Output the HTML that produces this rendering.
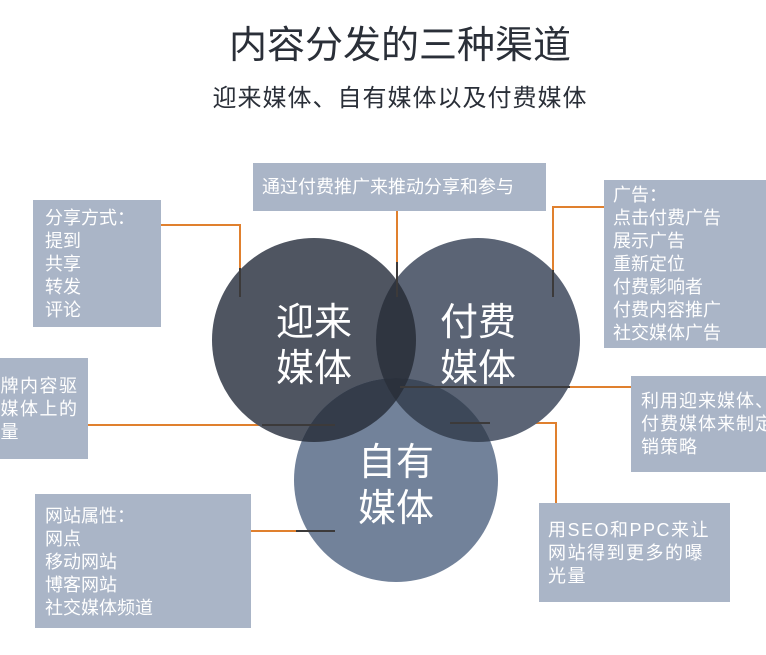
<!DOCTYPE html>
<html><head><meta charset="utf-8"><style>
html,body{margin:0;padding:0;background:#fff;}
svg{display:block;}
text{font-family:"Liberation Sans","Noto Sans CJK SC",sans-serif;}
.b{fill:#aab5c7;}
.t{fill:#fff;font-size:18px;}
.o{stroke:#e0802e;stroke-width:2;fill:none;}
.d{stroke:#3c3a3a;stroke-width:2;fill:none;}
.c{fill:#fff;font-size:38px;}
</style></head><body>
<svg width="766" height="655" viewBox="0 0 766 655">
<defs>
<clipPath id="L"><circle cx="314" cy="340" r="102"/></clipPath>
<clipPath id="R"><circle cx="478" cy="340" r="102"/></clipPath>
</defs>
<text x="400" y="58" text-anchor="middle" font-size="38" fill="#2a2f38">内容分发的三种渠道</text>
<text x="400" y="106" text-anchor="middle" font-size="24" letter-spacing="1" fill="#2a2f38">迎来媒体、自有媒体以及付费媒体</text>

<polyline class="o" points="161,225 240,225 240,297"/>
<polyline class="o" points="397,211 397,297"/>
<polyline class="o" points="604,207 553,207 553,297"/>
<polyline class="o" points="88,425 335,425"/>
<polyline class="o" points="631,387 400,387"/>
<polyline class="o" points="556,503 556,423 450,423"/>
<polyline class="o" points="251,531 335,531"/>

<circle cx="314" cy="340" r="102" fill="#4f5561"/>
<circle cx="478" cy="340" r="102" fill="#5b6475"/>
<circle cx="396" cy="480" r="102" fill="#72829a"/>
<circle cx="478" cy="340" r="102" fill="#2f3540" clip-path="url(#L)"/>
<g clip-path="url(#L)"><circle cx="396" cy="480" r="102" fill="#343c4a"/></g>
<g clip-path="url(#R)"><circle cx="396" cy="480" r="102" fill="#3d4859"/></g>
<g clip-path="url(#L)"><g clip-path="url(#R)"><circle cx="396" cy="480" r="102" fill="#2b313c"/></g></g>

<line class="d" x1="240" y1="268" x2="240" y2="297"/>
<line class="d" x1="397" y1="262" x2="397" y2="297"/>
<line class="d" x1="553" y1="270" x2="553" y2="297"/>
<line class="d" x1="262" y1="425" x2="335" y2="425"/>
<line class="d" x1="400" y1="387" x2="570" y2="387"/>
<line class="d" x1="450" y1="423" x2="490" y2="423"/>
<line class="d" x1="296" y1="531" x2="335" y2="531"/>

<text class="c" x="314" y="335" text-anchor="middle">迎来</text>
<text class="c" x="314" y="381" text-anchor="middle">媒体</text>
<text class="c" x="478" y="335" text-anchor="middle">付费</text>
<text class="c" x="478" y="381" text-anchor="middle">媒体</text>
<text class="c" x="396" y="475" text-anchor="middle">自有</text>
<text class="c" x="396" y="521" text-anchor="middle">媒体</text>

<rect class="b" x="253" y="163" width="293" height="48"/>
<text class="t" x="262" y="193">通过付费推广来推动分享和参与</text>

<rect class="b" x="33" y="200" width="128" height="127"/>
<text class="t" x="45" y="224">分享方式：</text>
<text class="t" x="45" y="247">提到</text>
<text class="t" x="45" y="270">共享</text>
<text class="t" x="45" y="293">转发</text>
<text class="t" x="45" y="316">评论</text>

<rect class="b" x="604" y="180" width="162" height="168"/>
<text class="t" x="613" y="201">广告：</text>
<text class="t" x="613" y="224">点击付费广告</text>
<text class="t" x="613" y="247">展示广告</text>
<text class="t" x="613" y="270">重新定位</text>
<text class="t" x="613" y="293">付费影响者</text>
<text class="t" x="613" y="316">付费内容推广</text>
<text class="t" x="613" y="339">社交媒体广告</text>

<rect class="b" x="0" y="358" width="88" height="101"/>
<text class="t" x="-19" y="392" letter-spacing="1.5">品牌内容驱</text>
<text class="t" x="-19" y="415" letter-spacing="1.5">动媒体上的</text>
<text class="t" x="-19" y="438" letter-spacing="1.5">流量</text>

<rect class="b" x="631" y="376" width="135" height="96"/>
<text class="t" x="641" y="407" letter-spacing="1">利用迎来媒体、</text>
<text class="t" x="641" y="430" letter-spacing="1">付费媒体来制定</text>
<text class="t" x="641" y="453" letter-spacing="1">销策略</text>

<rect class="b" x="35" y="494" width="216" height="134"/>
<text class="t" x="45" y="522">网站属性：</text>
<text class="t" x="45" y="545">网点</text>
<text class="t" x="45" y="568">移动网站</text>
<text class="t" x="45" y="591">博客网站</text>
<text class="t" x="45" y="614">社交媒体频道</text>

<rect class="b" x="539" y="503" width="191" height="99"/>
<text class="t" x="548" y="536" letter-spacing="1.5">用SEO和PPC来让</text>
<text class="t" x="548" y="559" letter-spacing="1.5">网站得到更多的曝</text>
<text class="t" x="548" y="582" letter-spacing="1.5">光量</text>
</svg>
</body></html>
